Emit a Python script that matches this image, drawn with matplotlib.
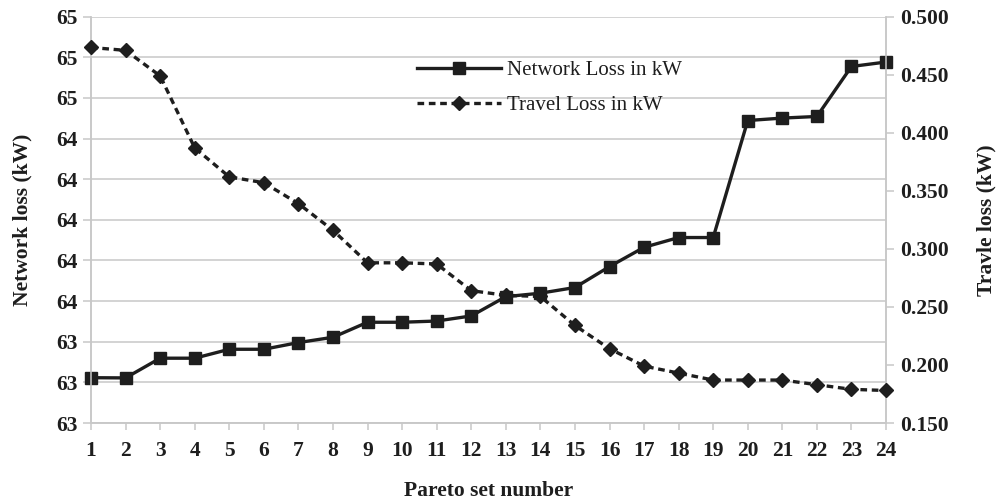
import matplotlib

matplotlib.use("Agg")
import matplotlib.pyplot as plt
import numpy as np
from matplotlib.ticker import FuncFormatter

pareto_set = list(range(1, 25))
network_loss = [
    63.223, 63.222, 63.319, 63.319, 63.363, 63.363, 63.396, 63.422,
    63.496, 63.496, 63.502, 63.527, 63.622, 63.639, 63.667, 63.770,
    63.865, 63.913, 63.913, 64.489, 64.501, 64.509, 64.755, 64.777,
]
travel_loss = [
    0.4735, 0.471, 0.449, 0.387, 0.362, 0.357, 0.339, 0.316,
    0.288, 0.288, 0.287, 0.264, 0.260, 0.259, 0.234, 0.214,
    0.199, 0.193, 0.187, 0.187, 0.187, 0.183, 0.179, 0.178,
]

GRID = "#c8c8c8"
INK = "#1e1e1e"
FS = 15.5
plt.rcParams["font.family"] = ["Liberation Serif", "DejaVu Serif"]

fig = plt.figure(figsize=(9.97, 4.99), dpi=100)
ax = fig.add_axes([0.0913, 0.1523, 0.7974, 0.8142])
ax2 = ax.twinx()

ax.set_xlim(1, 24)
ax.set_ylim(63.0, 65.0)
ax2.set_ylim(0.15, 0.50)

ax.set_yticks(np.linspace(63.0, 65.0, 11))
ax.yaxis.set_major_formatter(FuncFormatter(lambda v, _: f"{v:.0f}"))
ax.grid(axis="y", color=GRID, lw=1.1)
ax.set_axisbelow(True)
ax.set_xticks(pareto_set)

ax2.set_yticks(np.arange(0.15, 0.501, 0.05))
ax2.yaxis.set_major_formatter(FuncFormatter(lambda v, _: f"{v:.3f}"))

for a in (ax, ax2):
    for side in ("left", "right", "bottom"):
        a.spines[side].set_color(GRID)
        a.spines[side].set_linewidth(1.1)
    a.spines["top"].set_visible(False)
    a.tick_params(colors=GRID, length=6, width=1.1, pad=4, labelcolor=INK, labelsize=FS)
    for lbl in a.get_xticklabels() + a.get_yticklabels():
        lbl.set_fontweight("bold")
ax.tick_params(axis="x", length=5, pad=8)

l1, = ax.plot(pareto_set, network_loss, color=INK, lw=2.4, marker="s", ms=9,
              label="Network Loss in kW", zorder=5, clip_on=False)
l2, = ax2.plot(pareto_set, travel_loss, color=INK, lw=2.4, ls=(0, (2.0, 1.4)),
               marker="D", ms=7.5, label="Travel Loss in kW", zorder=5, clip_on=False)

ax.set_xlabel("Pareto set number", fontsize=FS, fontweight="bold", color=INK, labelpad=14)
ax.set_ylabel("Network loss (kW)", fontsize=FS, fontweight="bold", color=INK, labelpad=17)
ax2.set_ylabel("Travle loss (kW)", fontsize=FS, fontweight="bold", color=INK, labelpad=20)

fig.legend(handles=[l1, l2], loc="upper left", bbox_to_anchor=(0.408, 0.9),
           frameon=False, fontsize=15, handlelength=4.0, handletextpad=0.3,
           labelspacing=0.75, borderpad=0, labelcolor=INK)

fig.savefig("out.png", dpi=100)
